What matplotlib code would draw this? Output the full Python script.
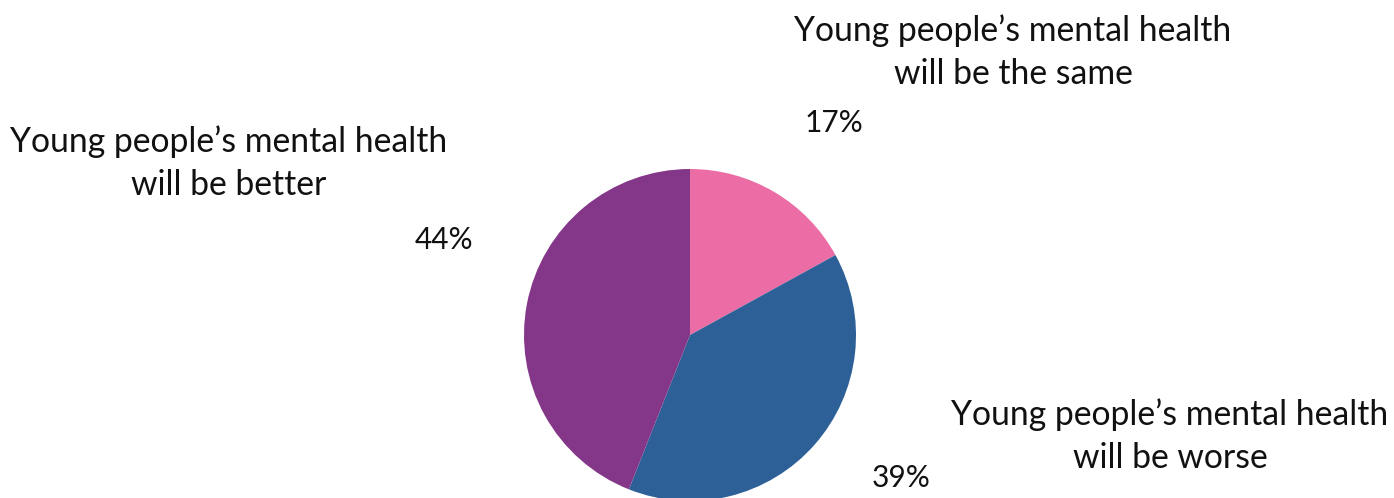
import matplotlib.pyplot as plt

# survey answers, clockwise from 12 o'clock
categories = ["Young people\u2019s mental health\nwill be the same",
              "Young people\u2019s mental health\nwill be worse",
              "Young people\u2019s mental health\nwill be better"]
shares = [17, 39, 44]
colors = ["#EC6DA5", "#2E6098", "#843789"]

W, H = 1394, 498
fig = plt.figure(figsize=(W / 100, H / 100), dpi=100)
ax = fig.add_axes([0, 0, 1, 1])

cx, cy, r = 690, H - 335, 166
ax.pie(shares, colors=colors, startangle=90, counterclock=False,
       center=(cx, cy), radius=r, frame=True,
       wedgeprops=dict(linewidth=0))
ax.set_xlim(0, W)
ax.set_ylim(0, H)
ax.set_aspect("equal")
ax.axis("off")

fam = ["Lato", "DejaVu Sans"]
label_font = dict(family=fam, fontsize=24.3, color="#111111")
pct_font = dict(family=fam, fontsize=21.5, color="#111111")

# (category label centre, percentage centre) in pixels from top-left
label_pos = [(1013, 52), (1170, 436), (229, 163)]
pct_pos = [(834, 123), (901, 478), (444, 240)]

for name, v, (lx, ly), (px, py) in zip(categories, shares, label_pos, pct_pos):
    ax.text(lx, H - ly, name, ha="center", va="center",
            linespacing=1.42, **label_font)
    ax.text(px, H - py, f"{v}%", ha="center", va="center", **pct_font)

fig.savefig("out.png", dpi=100)
